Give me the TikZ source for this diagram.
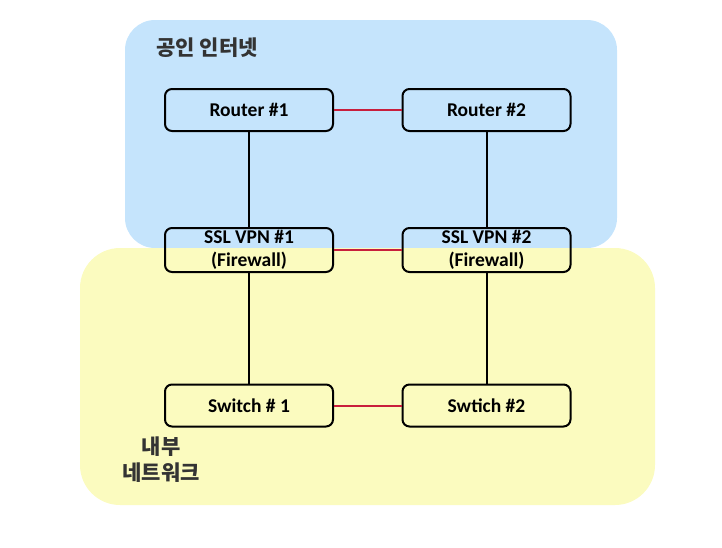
\documentclass[tikz,border=0pt]{standalone}
\usepackage{fontspec}
\setmainfont{Carlito}
\newfontfamily\kofont{Noto Sans CJK KR}
\usetikzlibrary{calc, positioning}

\definecolor{netblue}{RGB}{197,228,252}
\definecolor{netyellow}{RGB}{251,251,191}
\definecolor{linkred}{RGB}{200,30,60}

\tikzset{
  devbox/.style={draw=black, line width=2pt, rounded corners=7pt,
    minimum width=168pt, minimum height=42pt, inner sep=0pt,
    align=center, font=\fontsize{19.5}{22.5}\selectfont\bfseries},
  uplink/.style={line width=2pt, black},
  peerlink/.style={line width=2pt, linkred},
  zonelbl/.style={font=\kofont\fontsize{21}{26}\selectfont\bfseries, text=black!80, align=center}
}

\begin{document}
\begin{tikzpicture}[x=1pt,y=-1pt]
\useasboundingbox (0,0) rectangle (722,547);

% zones
\fill[netblue, rounded corners=30pt] (125,20) rectangle (617,248);
\fill[netyellow, rounded corners=40pt] (80,248) rectangle (655,505);

\node[zonelbl] (pub) at (207,48) {공인 인터넷};
\node[zonelbl] (lan) at (161,460) {내부\\네트워크};

% devices
\node[devbox] (r1) at (249,110) {Router \#1};
\node[devbox] (r2) at (486.5,110) {Router \#2};
\node[devbox, minimum height=44pt] (v1) at (249,250) {SSL VPN \#1\\(Firewall)};
\node[devbox, minimum height=44pt] (v2) at (486.5,250) {SSL VPN \#2\\(Firewall)};
\node[devbox] (s1) at (249,405.5) {Switch \# 1};
\node[devbox] (s2) at (486.5,405.5) {Swtich \#2};

% links
\draw[uplink] (r1) -- (v1);
\draw[uplink] (v1) -- (s1);
\draw[uplink] (r2) -- (v2);
\draw[uplink] (v2) -- (s2);
\draw[peerlink] (r1) -- (r2);
\draw[peerlink] (v1) -- (v2);
\draw[peerlink] (s1) -- (s2);

\end{tikzpicture}
\end{document}
